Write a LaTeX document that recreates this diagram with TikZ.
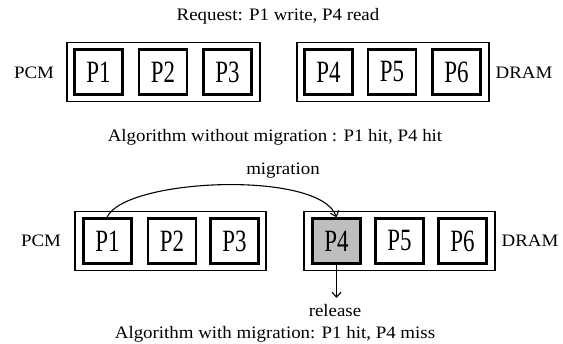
\documentclass[tikz,border=0pt]{standalone}
\usepackage{fontspec}
\setmainfont[FakeStretch=1.08]{Liberation Serif}
\newfontfamily\pfont[FakeStretch=0.74]{Liberation Serif}
\usetikzlibrary{arrows.meta}
\definecolor{pgray}{RGB}{190,190,190}
\begin{document}
\begin{tikzpicture}[x=1pt,y=-1pt,
  outerbox/.style={draw=black,line width=1.6pt,inner sep=0pt,minimum height=59pt},
  pagebox/.style={draw=black,line width=2.4pt,inner sep=0pt,minimum width=48pt,minimum height=45pt,font=\pfont\fontsize{31}{31}\selectfont},
  captxt/.style={inner sep=0pt,font=\fontsize{17.5}{18}\selectfont},
  arr/.style={line width=1.1pt,-{Straight Barb[length=5pt,width=9pt,line width=1.1pt]}}]
\useasboundingbox (0,0) rectangle (563,344);
% top row
\node[captxt] (req) at (278,16) {Request: P1 write, P4 read};
\node[outerbox,minimum width=193pt] (pcmA) at (163.5,72) {};
\node[pagebox] (a1) at (98.5,72) {P1};
\node[pagebox] (a2) at (163,72) {P2};
\node[pagebox] (a3) at (227.5,72) {P3};
\node[outerbox,minimum width=192pt] (dramA) at (393,72) {};
\node[pagebox] (a4) at (328.5,72) {P4};
\node[pagebox] (a5) at (392,72) {P5};
\node[pagebox] (a6) at (456.5,72) {P6};
\node[captxt] (pcmlA) at (34,73) {PCM};
\node[captxt] (dramlA) at (524,73) {DRAM};
\node[captxt] (without) at (275,137) {Algorithm without migration : P1 hit, P4 hit};
% bottom row
\node[captxt] (mig) at (283,171) {migration};
\node[outerbox,minimum width=191pt] (pcmB) at (170.5,241) {};
\node[pagebox] (b1) at (107.5,241) {P1};
\node[pagebox] (b2) at (172,241) {P2};
\node[pagebox] (b3) at (234.5,241) {P3};
\node[outerbox,minimum width=191pt] (dramB) at (399.5,241) {};
\node[pagebox,fill=pgray] (b4) at (336.5,241) {P4};
\node[pagebox] (b5) at (399.5,241) {P5};
\node[pagebox] (b6) at (462.5,241) {P6};
\node[captxt] (pcmlB) at (41,241) {PCM};
\node[captxt] (dramlB) at (530,241) {DRAM};
\coordinate (rel) at (336.5,298);
\node[captxt] (release) at (335,311) {release};
\node[captxt] (with) at (275,334) {Algorithm with migration: P1 hit, P4 miss};
\draw[arr] ([xshift=-0.5pt]b1.north) .. controls (125,178) and (320,170) .. (b4.north);
\draw[arr] (b4.south) -- (rel);
\end{tikzpicture}
\end{document}
